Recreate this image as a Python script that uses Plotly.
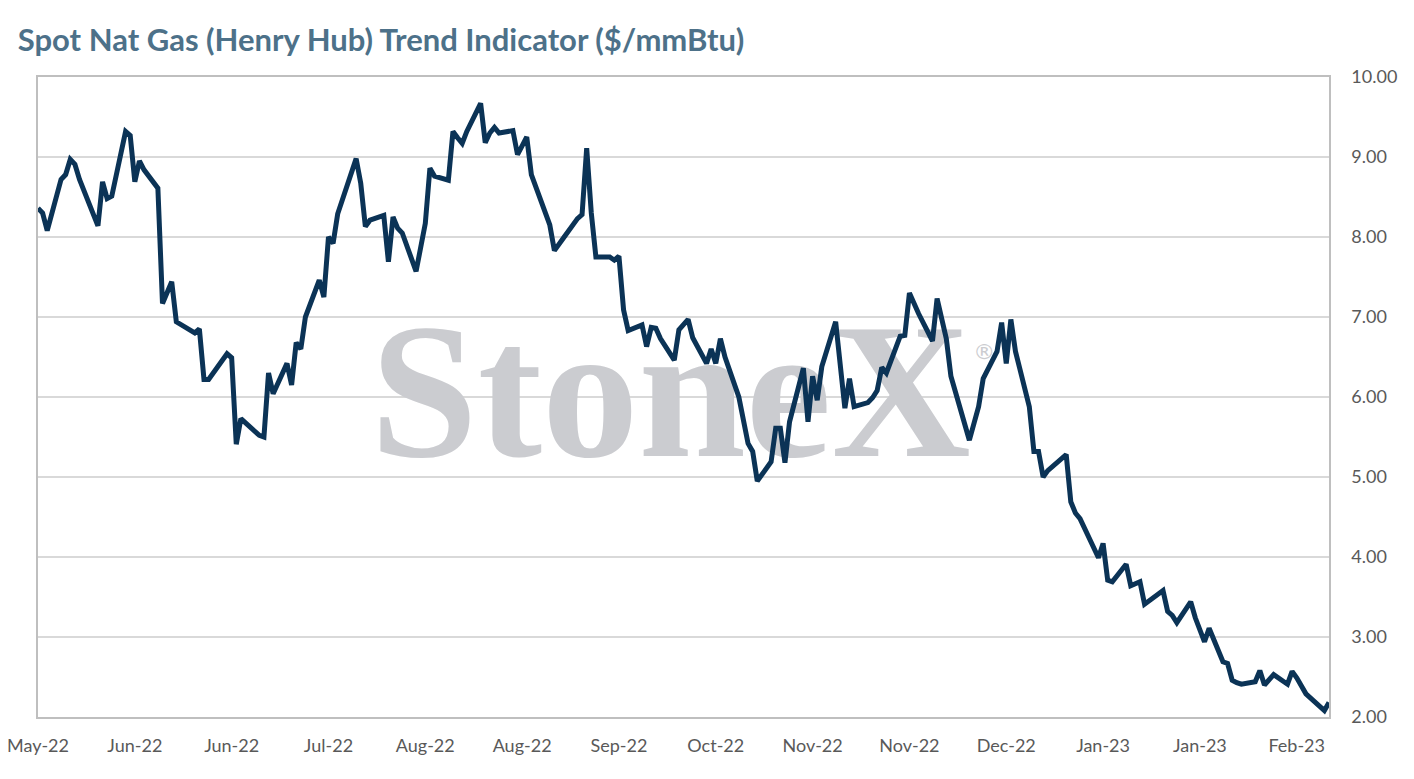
import plotly.graph_objects as go
import pandas as pd

# trading days, 18 May 2022 to 22 Feb 2023 (US market holidays left out)
start = "2022-05-18"
end = "2023-02-22"
holidays = ["2022-05-30", "2022-06-20", "2022-07-04", "2022-09-05", "2022-11-24",
            "2022-12-26", "2023-01-02", "2023-01-16", "2023-02-20"]
dates = pd.bdate_range(start, end)
dates = dates[~dates.isin(pd.to_datetime(holidays))]

# spot Henry Hub, $/mmBtu, one value per trading day (read week by week)
price = [
    8.36, 8.30, 8.08,
    8.72, 8.78, 8.97, 8.91, 8.72,
    8.14, 8.69, 8.48, 8.51,
    9.32, 9.27, 8.69, 8.95, 8.84,
    8.61, 7.17, 7.30, 7.44, 6.94,
    6.80, 6.85, 6.22, 6.22,
    6.46, 6.54, 6.49, 5.41, 5.73,
    5.52, 5.50, 6.30, 6.04,
    6.42, 6.15, 6.68, 6.60, 7.00,
    7.46, 7.25, 8.00, 7.92, 8.29,
    8.78, 8.98, 8.67, 8.13, 8.21,
    8.27, 7.69, 8.25, 8.11, 8.05,
    7.57, 7.85, 8.17, 8.86, 8.76,
    8.71, 9.32, 9.24, 9.17, 9.32,
    9.67, 9.18, 9.30, 9.37, 9.30,
    9.33, 9.03, 9.14, 9.25, 8.78,
    8.15, 7.83, 7.90, 7.99,
    8.23, 8.28, 9.11, 8.30, 7.75,
    7.75, 7.71, 7.76, 7.09, 6.83,
    6.90, 6.63, 6.87, 6.86, 6.73,
    6.46, 6.84, 6.90, 6.97, 6.74,
    6.42, 6.60, 6.42, 6.73, 6.50,
    6.00, 5.68, 5.42, 5.32, 4.95,
    5.19, 5.61, 5.61, 5.18, 5.69,
    6.36, 5.69, 6.26, 5.96, 6.38,
    6.94, 6.41, 5.86, 6.23, 5.88,
    5.93, 5.99, 6.08, 6.37, 6.30,
    6.76, 6.77, 7.30, 7.04,
    6.70, 7.23, 6.97, 6.73, 6.26,
    5.62, 5.46, 5.67, 5.88, 6.23,
    6.57, 6.93, 6.42, 6.97, 6.57,
    5.88, 5.32, 5.32, 5.00, 5.08,
    5.28, 4.69, 4.55, 4.48,
    3.99, 4.17, 3.71, 3.69,
    3.91, 3.64, 3.67, 3.69, 3.41,
    3.58, 3.32, 3.27, 3.18,
    3.44, 3.24, 3.07, 2.94, 3.11,
    2.69, 2.67, 2.46, 2.43, 2.41,
    2.44, 2.58, 2.40, 2.47, 2.53,
    2.41, 2.57, 2.49, 2.40, 2.29,
    2.08, 2.18,
]

# x labels every 21 days, as on the original date axis
tick_labels = ["May-22", "Jun-22", "Jun-22", "Jul-22", "Aug-22", "Aug-22", "Sep-22",
               "Oct-22", "Nov-22", "Nov-22", "Dec-22", "Jan-23", "Jan-23", "Feb-23"]
tick_dates = pd.date_range(start, periods=len(tick_labels), freq="21D")
y_ticks = [2, 3, 4, 5, 6, 7, 8, 9, 10]

t0, t1 = pd.Timestamp(start), pd.Timestamp(end)

fig = go.Figure()

# StoneX watermark, drawn first so the line sits on top of it
fig.add_trace(go.Scatter(
    x=[t0 + (t1 - t0) * 0.49], y=[5.86],
    mode="text", text=["<b>StoneX</b>"], textposition="middle center",
    textfont=dict(family="Liberation Serif", size=193, color="#cbccd0"),
    hoverinfo="skip", showlegend=False
))
fig.add_trace(go.Scatter(
    x=[t0 + (t1 - t0) * 0.733], y=[6.55],
    mode="text", text=["®"], textposition="middle center",
    textfont=dict(family="DejaVu Sans", size=22, color="#cbccd0"),
    hoverinfo="skip", showlegend=False
))

fig.add_trace(go.Scatter(
    x=dates, y=price,
    mode="lines",
    line=dict(color="#0b3356", width=5),
    showlegend=False,
    hovertemplate="%{x|%d %b %Y}: $%{y:.2f}<extra></extra>"
))

# page body has an 8px margin, so the figure is a bit smaller than the window
fig.update_layout(
    width=1398, height=763,
    margin=dict(l=30, r=77, t=69, b=54),
    paper_bgcolor="white", plot_bgcolor="white",
    title=dict(
        text="<b>Spot Nat Gas (Henry Hub) Trend Indicator ($/mmBtu)</b>",
        x=0.007, xanchor="left", y=0.958, yanchor="middle",
        font=dict(family="Lato", size=31, color="#4d7189")
    ),
    font=dict(family="Lato", size=18, color="#595959")
)

fig.update_xaxes(
    type="date", range=[t0, t1], automargin=False,
    tickvals=tick_dates, ticktext=tick_labels,
    ticklabeloverflow="allow",
    showgrid=False, zeroline=False,
    showline=True, linecolor="#bfbfbf", linewidth=1.5, mirror=True,
    ticks="outside", ticklen=12, tickcolor="rgba(0,0,0,0)",
    tickfont=dict(family="Lato", size=18, color="#595959")
)
fig.update_yaxes(
    side="right", range=[2, 10], automargin=False,
    tickvals=y_ticks, tickformat=".2f",
    showgrid=True, gridcolor="#d9d9d9", gridwidth=1.5, zeroline=False,
    showline=True, linecolor="#bfbfbf", linewidth=1.5, mirror=True,
    ticks="outside", ticklen=17, tickcolor="rgba(0,0,0,0)",
    tickfont=dict(family="Lato", size=18, color="#595959")
)

fig.write_html("out.html")
